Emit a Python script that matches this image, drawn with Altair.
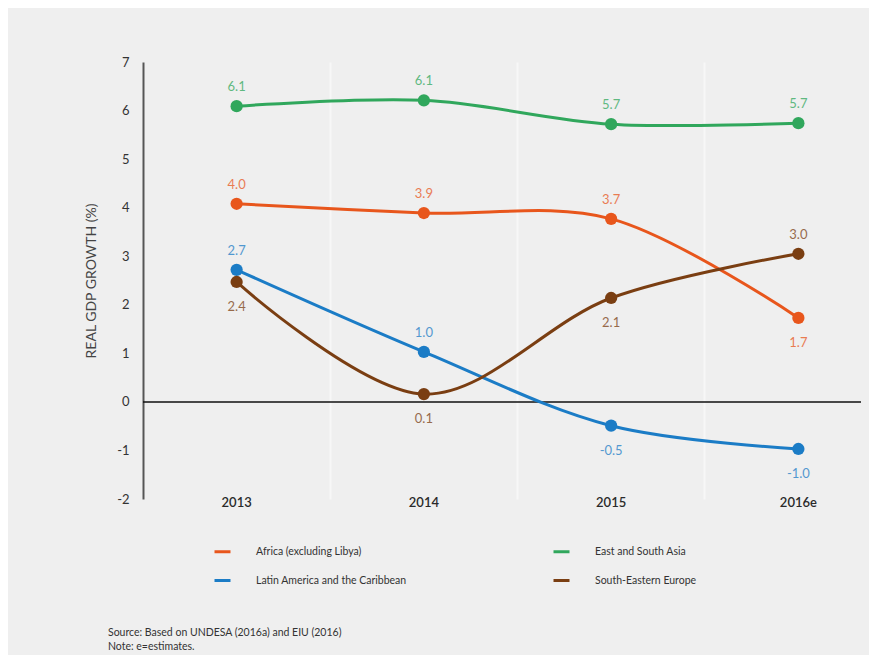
import altair as alt
import pandas as pd

years = ["2013", "2014", "2015", "2016e"]
series = ["Africa (excluding Libya)", "East and South Asia",
          "Latin America and the Caribbean", "South-Eastern Europe"]
colors = ["#e8561c", "#30a75c", "#1b7cc6", "#7a3e12"]

africa = [4.08, 3.89, 3.77, 1.73]
asia = [6.09, 6.21, 5.72, 5.74]
latam = [2.72, 1.03, -0.49, -0.97]
see = [2.47, 0.16, 2.14, 3.05]

africa_lbl = ["4.0", "3.9", "3.7", "1.7"]
asia_lbl = ["6.1", "6.1", "5.7", "5.7"]
latam_lbl = ["2.7", "1.0", "-0.5", "-1.0"]
see_lbl = ["2.4", "0.1", "2.1", "3.0"]

# label placement relative to point
africa_pos = ["above", "above", "above", "below"]
asia_pos = ["above", "above", "above", "above"]
latam_pos = ["above", "above", "below", "below"]
see_pos = ["below", "below", "below", "above"]

notes = "Source: Based on UNDESA (2016a) and EIU (2016)\nNote: e=estimates."

rows = []
for name, vals, lbls, poss in [
    (series[0], africa, africa_lbl, africa_pos),
    (series[1], asia, asia_lbl, asia_pos),
    (series[2], latam, latam_lbl, latam_pos),
    (series[3], see, see_lbl, see_pos),
]:
    for y, v, l, p in zip(years, vals, lbls, poss):
        rows.append({"year": y, "series": name, "value": v, "label": l, "pos": p})
df = pd.DataFrame(rows)

FONT = "Lato"

x = alt.X("year:N", sort=years, title=None,
          scale=alt.Scale(type="band", paddingInner=0, paddingOuter=0, range=[0, 749]),
          axis=alt.Axis(bandPosition=0, grid=True, gridColor="#f7f7f7", gridWidth=2,
                        domain=False, ticks=False, labelAngle=0, labelPadding=-3,
                        labelFontSize=13, labelColor="#2a2a2a", labelFont=FONT,
                        labelFontWeight=600))
y = alt.Y("value:Q", title="REAL  GDP  GROWTH  (%)",
          scale=alt.Scale(domain=[-2, 7], nice=False, zero=False),
          axis=alt.Axis(values=list(range(-2, 8)), grid=False, ticks=False,
                        labelExpr="'' + datum.value",
                        domainColor="#555555", domainWidth=2,
                        labelPadding=14, labelFontSize=13, labelColor="#333333",
                        labelFont=FONT, titleFont=FONT, titleFontSize=14,
                        titleFontWeight="normal", titleColor="#444444",
                        titlePadding=18))
color = alt.Color("series:N",
                  scale=alt.Scale(domain=series, range=colors),
                  legend=alt.Legend(title=None, orient="none", legendX=70, legendY=480,
                                    columns=2, direction="horizontal",
                                    symbolType="stroke", symbolStrokeWidth=3,
                                    symbolSize=256, labelFont=FONT, labelFontSize=10.5,
                                    labelColor="#333333", labelOffset=24,
                                    columnPadding=140, rowPadding=13, padding=0))

base = alt.Chart(df)
lbl_color = alt.Color("series:N", scale=alt.Scale(domain=series, range=colors), legend=None)

lines = base.mark_line(interpolate="catmull-rom", strokeWidth=3).encode(x=x, y=y, color=color)
points = base.mark_circle(size=150, opacity=1).encode(x=x, y=y, color=color)

above = base.transform_filter(alt.datum.pos == "above").mark_text(
    dy=-19, font=FONT, fontSize=13, opacity=0.75, baseline="middle"
).encode(x=x, y=y, text="label:N", color=lbl_color)
below = base.transform_filter(alt.datum.pos == "below").mark_text(
    dy=25, font=FONT, fontSize=13, opacity=0.75, baseline="middle"
).encode(x=x, y=y, text="label:N", color=lbl_color)

zero = alt.Chart(pd.DataFrame({"z": [0]})).mark_rule(color="#111111", strokeWidth=1.5).encode(
    y=alt.Y("z:Q", scale=alt.Scale(domain=[-2, 7], nice=False, zero=False)))

note = alt.Chart(pd.DataFrame({"t": [notes]})).mark_text(
    align="left", baseline="top", font=FONT, fontSize=10.5, color="#333333",
    lineBreak="\n", lineHeight=14
).encode(x=alt.value(-35), y=alt.value(566), text="t:N")

chart = alt.layer(zero, lines, points, above, below, note).properties(
    width=718, height=437,
    background="#efefef",
    padding={"left": 135, "top": 54, "right": 8, "bottom": 156},
    autosize=alt.AutoSizeParams(type="none"),
).configure_view(stroke=None)

chart.save("out.html", embed_options={"renderer": "svg", "actions": False})
